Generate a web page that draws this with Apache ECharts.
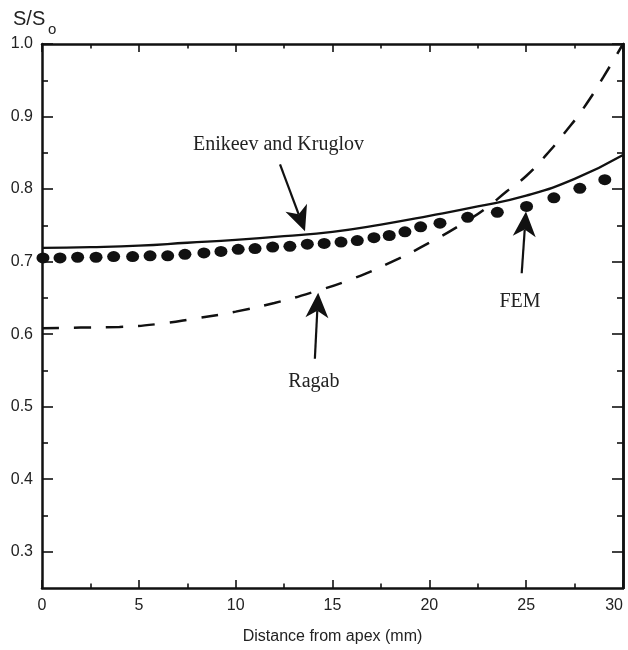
<!DOCTYPE html>
<html>
<head>
<meta charset="utf-8">
<script src="https://cdn.jsdelivr.net/npm/echarts@6/dist/echarts.min.js"></script>
<style>
  html, body { margin: 0; padding: 0; background: #fff; }
  #chart { width: 628px; height: 650px; }
</style>
</head>
<body>
<div id="chart"></div>
<script>
// Axis ticks
const xTicks = [0, 5, 10, 15, 20, 25, 30];
const yTicks = [0.3, 0.4, 0.5, 0.6, 0.7, 0.8, 0.9, 1.0];
const yMinorTicks = [0.35, 0.45, 0.55, 0.65, 0.75, 0.85, 0.95];

// FEM nodal results: distance (mm) and S/So
const femX = [0.05, 0.93, 1.84, 2.79, 3.70, 4.68, 5.58, 6.49, 7.38, 8.36, 9.24,
  10.13, 11.0, 11.91, 12.80, 13.70, 14.57, 15.44, 16.28, 17.14, 17.93, 18.74,
  19.55, 20.55, 21.98, 23.51, 25.02, 26.43, 27.77, 29.06];
const femY = [0.705, 0.705, 0.706, 0.706, 0.707, 0.707, 0.708, 0.708, 0.710, 0.712, 0.714,
  0.717, 0.718, 0.720, 0.721, 0.724, 0.725, 0.727, 0.729, 0.733, 0.736, 0.741,
  0.748, 0.753, 0.761, 0.768, 0.776, 0.788, 0.801, 0.813];

// Enikeev and Kruglov model
const ekX = [0, 2.5, 5, 7.5, 10, 12.5, 15, 17.5, 20, 22.5, 25, 27.5, 30];
const ekY = [0.719, 0.720, 0.722, 0.726, 0.730, 0.735, 0.741, 0.751, 0.763, 0.776, 0.791, 0.814, 0.847];

// Ragab model
const rgX = [0, 2, 4, 6, 8, 10, 12, 14, 16, 18, 20, 22, 23, 24, 25, 26, 27, 28, 29, 30];
const rgY = [0.608, 0.609, 0.610, 0.614, 0.622, 0.631, 0.643, 0.658, 0.676, 0.699,
  0.726, 0.757, 0.775, 0.797, 0.818, 0.846, 0.878, 0.913, 0.955, 1.000];

// Callouts: text anchor and arrow from tail to tip (data units)
const callouts = [
  { text: 'Enikeev and Kruglov', at: [12.21, 0.861], tail: [12.29, 0.834], tip: [13.58, 0.742] },
  { text: 'Ragab', at: [14.04, 0.534], tail: [14.09, 0.566], tip: [14.26, 0.657] },
  { text: 'FEM', at: [24.68, 0.644], tail: [24.77, 0.684], tip: [24.99, 0.769] }
];

const zip = (xs, ys) => xs.map((x, i) => [x, ys[i]]);
const ink = '#111';
const axisLine = { show: true, onZero: false, lineStyle: { color: ink, width: 2.5 } };

const chart = echarts.init(document.getElementById('chart'), null, { renderer: 'canvas' });

const xBase = {
  type: 'value', min: 0, max: 30, interval: 5,
  axisLine: axisLine,
  axisTick: { show: true, inside: true, length: 8, lineStyle: { color: ink, width: 1.6 } },
  minorTick: { show: true, splitNumber: 2, length: 4.5, lineStyle: { color: ink, width: 1.6 } },
  splitLine: { show: false },
  minorSplitLine: { show: false }
};

function yAxis(position, ticks, len, labels) {
  return {
    type: 'value', min: 0.25, max: 1.0, position: position,
    axisLine: labels || position === 'right' ? axisLine : { show: false },
    axisTick: { show: true, inside: true, length: len, customValues: ticks,
      lineStyle: { color: ink, width: 1.6 } },
    axisLabel: labels ? {
      show: true, customValues: yTicks, fontSize: 16, color: '#222', margin: 9,
      fontFamily: 'Liberation Sans', formatter: v => v.toFixed(1)
    } : { show: false },
    splitLine: { show: false }
  };
}

chart.setOption({
  animation: false,
  backgroundColor: '#fff',
  grid: { left: 42, right: 5, top: 44, bottom: 62, containLabel: false, outerBoundsMode: 'none' },
  xAxis: [
    Object.assign({}, xBase, {
      position: 'bottom',
      axisLabel: { fontSize: 16, color: '#222', margin: 10, fontFamily: 'Liberation Sans',
        customValues: xTicks, alignMaxLabel: 'right' },
      name: 'Distance from apex (mm)', nameLocation: 'middle', nameGap: 41,
      nameTextStyle: { fontSize: 16, color: '#222', fontFamily: 'Liberation Sans' }
    }),
    Object.assign({}, xBase, { position: 'top', axisLabel: { show: false } })
  ],
  yAxis: [
    yAxis('left', yTicks, 11, true),
    yAxis('left', yMinorTicks, 6, false),
    yAxis('right', yTicks, 11, false),
    yAxis('right', yMinorTicks, 6, false)
  ],
  series: [
    {
      name: 'Ragab', type: 'line', data: zip(rgX, rgY), smooth: true,
      showSymbol: false, symbol: 'none', clip: true,
      lineStyle: { color: ink, width: 2.5, type: [17, 15] }, z: 2
    },
    {
      name: 'Enikeev and Kruglov', type: 'line', data: zip(ekX, ekY), smooth: true,
      showSymbol: false, symbol: 'none',
      lineStyle: { color: ink, width: 2.3 }, z: 3
    },
    {
      name: 'FEM', type: 'scatter', data: zip(femX, femY),
      symbol: 'circle', symbolSize: [13, 11],
      itemStyle: { color: ink, opacity: 1 }, z: 4
    }
  ]
});

// Axis title and callout arrows
const toPx = p => chart.convertToPixel({ xAxisIndex: 0, yAxisIndex: 0 }, p);
const graphics = [
  { type: 'text', left: 13, top: 9, style: { text: 'S/S', fontSize: 20, fontFamily: 'Liberation Sans', fill: '#222' } },
  { type: 'text', left: 48, top: 22, style: { text: 'o', fontSize: 15, fontFamily: 'Liberation Sans', fill: '#222' } }
];

callouts.forEach(c => {
  const a = toPx(c.at), t0 = toPx(c.tail), t1 = toPx(c.tip);
  graphics.push({
    type: 'text', x: a[0], y: a[1],
    style: { text: c.text, fontSize: 20, fontFamily: 'Liberation Serif', fill: '#222',
      align: 'center', verticalAlign: 'middle' }
  });
  const dx = t1[0] - t0[0], dy = t1[1] - t0[1];
  const len = Math.hypot(dx, dy), ux = dx / len, uy = dy / len;
  const L = 25, W = 11.5;
  const bx = t1[0] - ux * L, by = t1[1] - uy * L;
  const nx = t1[0] - ux * L * 0.72, ny = t1[1] - uy * L * 0.72;
  graphics.push({
    type: 'line',
    shape: { x1: t0[0], y1: t0[1], x2: nx, y2: ny },
    style: { stroke: ink, lineWidth: 2.2 }
  });
  graphics.push({
    type: 'polygon',
    shape: { points: [
      [t1[0], t1[1]],
      [bx - uy * W, by + ux * W],
      [nx, ny],
      [bx + uy * W, by - ux * W]
    ] },
    style: { fill: ink }
  });
});

chart.setOption({ graphic: graphics });
</script>
</body>
</html>
